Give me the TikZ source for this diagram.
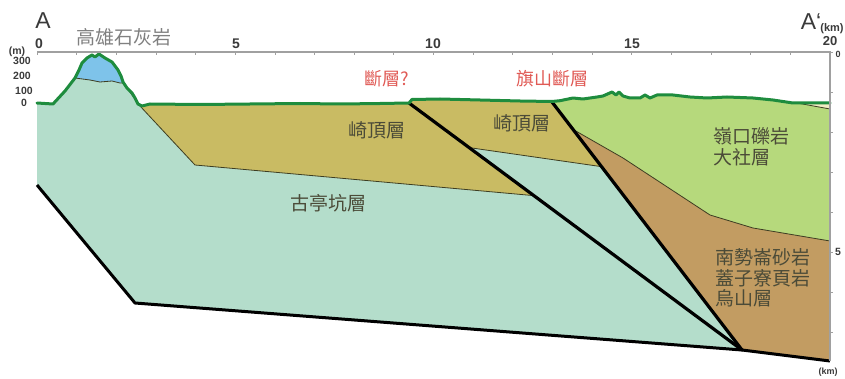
\documentclass[tikz,border=0pt]{standalone}
\usepackage{fontspec}
\setmainfont{Liberation Sans}
\newfontfamily\cjk{Noto Sans CJK TC}
\definecolor{gutingkeng}{HTML}{B4DDCB}
\definecolor{chiting}{HTML}{C9BB63}
\definecolor{lingkou}{HTML}{B6D97C}
\definecolor{nanshih}{HTML}{C29C62}
\definecolor{limestone}{HTML}{7EC3EA}
\definecolor{cream}{HTML}{F2EDC2}
\definecolor{topo}{HTML}{1E8C3E}
\definecolor{contact}{HTML}{3D3D22}
\definecolor{rocktext}{HTML}{4B4B38}
\definecolor{faultred}{HTML}{E05A55}
\definecolor{axisgray}{HTML}{A0A0A0}
\definecolor{numgray}{HTML}{3A3A3A}
\tikzset{
  unitlabel/.style={font=\cjk\fontsize{19}{20.5}\selectfont, text=rocktext, inner sep=0pt},
  faultlabel/.style={font=\cjk\fontsize{18}{20}\selectfont, text=faultred, inner sep=0pt},
  kmlabel/.style={font=\bfseries\fontsize{14}{14}\selectfont, text=numgray, inner sep=0pt},
  elevlabel/.style={font=\bfseries\fontsize{10.5}{10.5}\selectfont, text=numgray, inner sep=0pt},
  contactline/.style={draw=contact, line width=0.8pt, line join=round},
  faultline/.style={draw=black, line width=3.2pt, line cap=round},
  baseline/.style={draw=black, line width=3pt, line join=round},
  topoline/.style={draw=topo, line width=3pt, line join=round, line cap=round},
  axisline/.style={draw=axisgray, line width=1.2pt}
}
\begin{document}
\begin{tikzpicture}[x=1pt,y=-1pt]
\useasboundingbox (0,0) rectangle (845,379);

% key points of the section
\coordinate (F1t) at (409,103);
\coordinate (F2t) at (552,102);
\coordinate (M) at (742,350);
\coordinate (Qa) at (195,165);
\coordinate (Qb) at (560,198);
\coordinate (Ma) at (440,143.4);
\coordinate (Mb) at (640,172.2);
\coordinate (Bn) at (560,122);
\coordinate (Bx) at (623,158);
\coordinate (I1) at (intersection of F1t--M and Qa--Qb);
\coordinate (I2) at (intersection of F1t--M and Ma--Mb);
\coordinate (I3) at (intersection of F2t--M and Ma--Mb);
\coordinate (B0) at (intersection of F2t--M and Bn--Bx);
\coordinate (BL) at (37,185);
\coordinate (BK) at (135,303);
\coordinate (BR) at (830,361);

% rock units, clipped to the ground surface
\begin{scope}
\clip (37,103) -- (53,104) -- (65,91) -- (75,78) -- (79,70) -- (82,63) -- (87,58) -- (92,55) -- (95,57) -- (99,54) -- (105,58) -- (112,62) -- (118,70) -- (121,76) -- (123,82) -- (127,88) -- (132,93) -- (135,98) -- (138,104) -- (142,106) -- (150,104) -- (200,104.5) -- (250,104) -- (300,103.5) -- (340,104) -- (380,103.5) -- (409,103) -- (412,99.5) -- (440,99) -- (480,100) -- (520,101) -- (552,101.5) -- (560,100.7) -- (573,98) -- (583,99) -- (597,97) -- (603,96) -- (612,92) -- (616,95) -- (619,92) -- (623,96) -- (630,98) -- (640,98) -- (645,95) -- (650,98) -- (657,95) -- (673,95) -- (690,97) -- (707,98) -- (727,97) -- (753,98) -- (773,100) -- (793,103) -- (830,103) -- (BR) -- (M) -- (BK) -- (BL) -- cycle;
\fill[gutingkeng] (0,0) rectangle (845,379);
\fill[chiting] (127,60) -- (127,88) -- (140,106) -- (Qa) -- (I1) -- (F1t) -- (409,60) -- cycle;
\fill[chiting] (F1t) -- (I2) -- (I3) -- (F2t) -- (552,60) -- (409,60) -- cycle;
\fill[lingkou] (F2t) -- (B0) -- (Bx) -- (710,215) -- (753,228) -- (830,241) -- (845,241) -- (845,60) -- (552,60) -- cycle;
\fill[nanshih] (B0) -- (Bx) -- (710,215) -- (753,228) -- (830,241) -- (845,241) -- (845,370) -- (M) -- cycle;
\fill[cream] (797,103) -- (830,109) -- (845,109) -- (845,80) -- (797,80) -- cycle;
\fill[limestone] (75,78) -- (90,80) -- (100,82) -- (112,81) -- (120,83) -- (123,83) -- (130,70) -- (90,40) -- (70,60) -- cycle;
\end{scope}

% contacts between units
\draw[contactline] (127,88) -- (140,106) -- (Qa) -- (I1);
\draw[contactline] (I2) -- (I3);
\draw[contactline] (B0) -- (Bx) -- (710,215) -- (753,228) -- (830,241);
\draw[contactline] (75,78) -- (90,80) -- (100,82) -- (112,81) -- (120,83) -- (123,83);
\draw[contactline] (797,103) -- (830,109);

% faults and base of section
\draw[faultline] (F1t) -- (M);
\draw[faultline] (F2t) -- (M);
\draw[baseline] (BL) -- (BK) -- (M) -- (BR);

% ground surface
\draw[topoline] (37,103) -- (53,104) -- (65,91) -- (75,78) -- (79,70) -- (82,63) -- (87,58) -- (92,55) -- (95,57) -- (99,54) -- (105,58) -- (112,62) -- (118,70) -- (121,76) -- (123,82) -- (127,88) -- (132,93) -- (135,98) -- (138,104) -- (142,106) -- (150,104) -- (200,104.5) -- (250,104) -- (300,103.5) -- (340,104) -- (380,103.5) -- (409,103) -- (412,99.5) -- (440,99) -- (480,100) -- (520,101) -- (552,101.5) -- (560,100.7) -- (573,98) -- (583,99) -- (597,97) -- (603,96) -- (612,92) -- (616,95) -- (619,92) -- (623,96) -- (630,98) -- (640,98) -- (645,95) -- (650,98) -- (657,95) -- (673,95) -- (690,97) -- (707,98) -- (727,97) -- (753,98) -- (773,100) -- (793,103) -- (830,103);

% distance axis along the top and depth axis on the right
\coordinate (AxL) at (37,52);
\coordinate (AxR) at (830,52);
\coordinate (AxB) at (830,361);
\draw[axisline] (AxL) -- (AxR) -- (AxB);
\foreach \k in {0,...,20} \draw[axisgray, line width=0.8pt] (37+39.65*\k,52) -- ++(0,3);
\foreach \k in {0,...,7} \draw[axisgray, line width=0.8pt] (830,52+40*\k) -- ++(3,0);

% axis labels
\node[font=\fontsize{23}{23}\selectfont, text=numgray, inner sep=0pt] (lblA) at (43,21) {A};
\node[font=\fontsize{23}{23}\selectfont, text=numgray, inner sep=0pt] (lblAp) at (811,22) {A\char96};
\node[font=\bfseries\fontsize{11}{11}\selectfont, text=numgray, inner sep=0pt] (kmTop) at (832,29) {(km)};
\node[kmlabel] (x0) at (39,44) {0};
\node[kmlabel] (x5) at (236,44) {5};
\node[kmlabel] (x10) at (433,44) {10};
\node[kmlabel] (x15) at (632,44) {15};
\node[font=\bfseries\fontsize{13}{13}\selectfont, text=numgray, inner sep=0pt] (x20) at (830,41) {20};
\node[font=\bfseries\fontsize{9}{9}\selectfont, text=numgray, inner sep=0pt] (d0) at (838,54.5) {0};
\node[elevlabel] (d5) at (838,252) {5};
\node[font=\bfseries\fontsize{9}{9}\selectfont, text=numgray, inner sep=0pt] (kmBot) at (828,372) {(km)};
\node[elevlabel] (em) at (17,52) {(m)};
\node[elevlabel] (e300) at (22,61) {300};
\node[elevlabel] (e200) at (22,76) {200};
\node[elevlabel] (e100) at (24,91) {100};
\node[elevlabel] (e0) at (24,103) {0};

% names of units and faults
\node[font=\cjk\fontsize{19}{20}\selectfont, text=gray, inner sep=0pt] (kaohsiungLs) at (124,37) {高雄石灰岩};
\node[faultlabel] (faultQ) at (387,79) {斷層?};
\node[faultlabel] (chishan) at (552,79) {旗山斷層};
\node[unitlabel] (chiting1) at (377,130) {崎頂層};
\node[unitlabel] (chiting2) at (522,123) {崎頂層};
\node[unitlabel] (gutingkengLbl) at (328,203) {古亭坑層};
\node[unitlabel, anchor=west, align=left] (lingkouLbl) at (713,147) {嶺口礫岩\\大社層};
\node[unitlabel, anchor=west, align=left] (nanshihLbl) at (715,278) {南勢崙砂岩\\蓋子寮頁岩\\烏山層};
\end{tikzpicture}
\end{document}
